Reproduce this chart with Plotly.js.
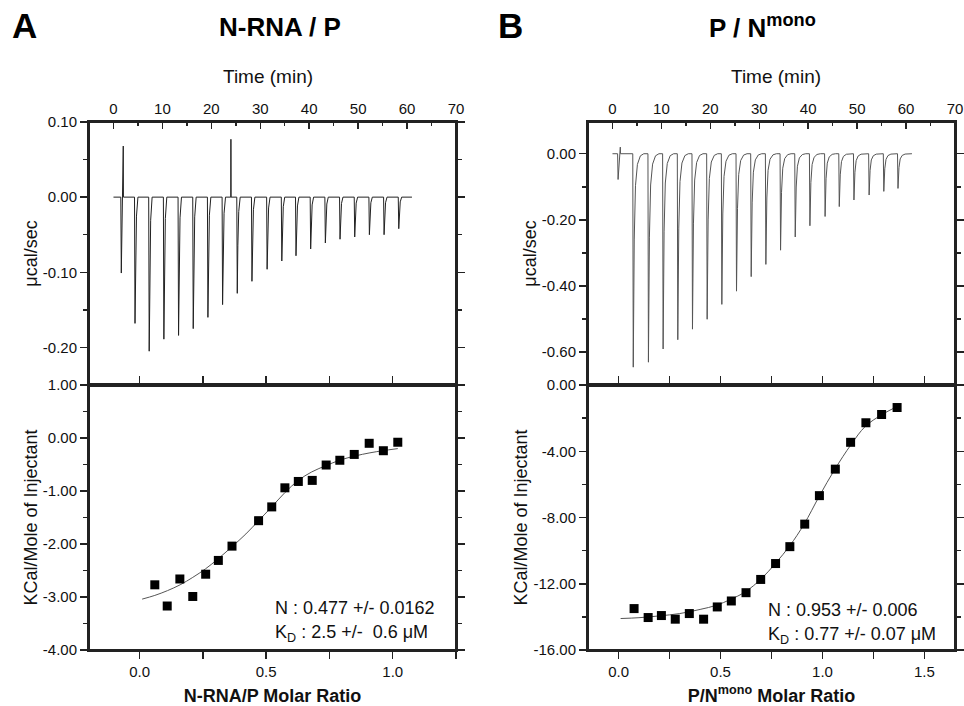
<!DOCTYPE html>
<html>
<head>
<meta charset="utf-8">
<script src="https://cdn.plot.ly/plotly-3.0.1.min.js"></script>
<style>html,body{margin:0;padding:0;background:#fff;}#chart{width:964px;height:706px;}</style>
</head>
<body>
<div id="chart"></div>
<script>
// ---------------- DATA ----------------
// Panel A (N-RNA / P) raw thermogram: injection times (min) and peak heights (µcal/sec)
const leftInjTime = [1.6, 4.4, 7.3, 10.3, 13.3, 16.3, 19.3, 22.3, 25.3, 28.3, 31.4, 34.4, 37.3, 40.3, 43.3, 46.3, 49.3, 52.3, 55.3, 58.3];
const leftInjPeak = [-0.101, -0.168, -0.205, -0.189, -0.184, -0.175, -0.160, -0.143, -0.128, -0.112, -0.096, -0.085, -0.078, -0.069, -0.061, -0.056, -0.053, -0.050, -0.050, -0.042];
const leftSpikeTime = [2.0, 24.0];
const leftSpikePeak = [0.068, 0.077];
const leftRun = [0, 61];

// Panel A integrated heats
const leftRatio = [0.060, 0.109, 0.159, 0.210, 0.261, 0.311, 0.365, 0.470, 0.522, 0.574, 0.627, 0.682, 0.737, 0.791, 0.848, 0.907, 0.963, 1.020];
const leftHeat  = [-2.77, -3.17, -2.66, -2.99, -2.57, -2.31, -2.04, -1.56, -1.30, -0.94, -0.82, -0.80, -0.51, -0.42, -0.31, -0.10, -0.24, -0.08];
const leftFitX  = [0.01, 0.06, 0.11, 0.16, 0.21, 0.26, 0.31, 0.365, 0.42, 0.47, 0.52, 0.574, 0.627, 0.68, 0.737, 0.79, 0.85, 0.91, 0.96, 1.02];
const leftFitY  = [-3.04, -2.97, -2.88, -2.77, -2.63, -2.47, -2.28, -2.05, -1.81, -1.56, -1.31, -1.03, -0.80, -0.64, -0.52, -0.42, -0.34, -0.28, -0.24, -0.20];

// Panel B (P / N mono) raw thermogram
const rightInjTime = [1.1, 4.2, 7.3, 10.3, 13.3, 16.3, 19.3, 22.3, 25.3, 28.3, 31.3, 34.3, 37.3, 40.3, 43.4, 46.3, 49.3, 52.4, 55.4, 58.3];
const rightInjPeak = [-0.078, -0.646, -0.631, -0.591, -0.563, -0.531, -0.501, -0.456, -0.416, -0.372, -0.335, -0.292, -0.252, -0.218, -0.190, -0.160, -0.140, -0.125, -0.114, -0.105];
const rightSpikeTime = [1.6];
const rightSpikePeak = [0.02];
const rightRun = [0, 61.2];

// Panel B integrated heats
const rightRatio = [0.076, 0.145, 0.210, 0.278, 0.347, 0.417, 0.484, 0.553, 0.625, 0.697, 0.770, 0.840, 0.913, 0.985, 1.063, 1.138, 1.213, 1.290, 1.366];
const rightHeat  = [-13.50, -14.04, -13.92, -14.14, -13.80, -14.14, -13.40, -13.04, -12.54, -11.74, -10.78, -9.76, -8.40, -6.68, -5.08, -3.46, -2.28, -1.78, -1.36];
const rightFitX  = [0.01, 0.1, 0.2, 0.3, 0.4, 0.48, 0.55, 0.62, 0.70, 0.77, 0.84, 0.91, 0.985, 1.06, 1.14, 1.21, 1.29, 1.366];
const rightFitY  = [-14.1, -14.05, -13.94, -13.8, -13.55, -13.30, -12.94, -12.50, -11.70, -10.76, -9.70, -8.40, -6.70, -5.10, -3.60, -2.50, -1.80, -1.30];

// Axis ranges
const timeRange = [-5, 70];
const leftTopRange = [-0.25, 0.1];
const leftBotRange = [-4, 1];
const leftRatioRange = [-0.2, 1.25];
const rightTopRange = [-0.7, 0.096];
const rightBotRange = [-16, 0];
const rightRatioRange = [-0.15, 1.65];

// Tick labels
const timeTickVals = [0, 10, 20, 30, 40, 50, 60, 70];
const timeTickText = ['0', '10', '20', '30', '40', '50', '60', '70'];
const leftTopTickVals = [0.1, 0, -0.1, -0.2];
const leftTopTickText = ['0.10', '0.00', '-0.10', '-0.20'];
const leftBotTickVals = [1, 0, -1, -2, -3, -4];
const leftBotTickText = ['1.00', '0.00', '-1.00', '-2.00', '-3.00', '-4.00'];
const leftRatioTickVals = [0, 0.5, 1.0];
const leftRatioTickText = ['0.0', '0.5', '1.0'];
const rightTopTickVals = [0, -0.2, -0.4, -0.6];
const rightTopTickText = ['0.00', '-0.20', '-0.40', '-0.60'];
const rightBotTickVals = [0, -4, -8, -12, -16];
const rightBotTickText = ['0.00', '-4.00', '-8.00', '-12.00', '-16.00'];
const rightRatioTickVals = [0, 0.5, 1.0, 1.5];
const rightRatioTickText = ['0.0', '0.5', '1.0', '1.5'];

// ---------------- STYLE ----------------
const W = 964, H = 706;
const xL = [89 / W, 456 / W];
const xR = [588 / W, 955 / W];
const yTop = [1 - 385 / H, 1 - 122 / H];
const yBot = [1 - 650 / H, 1 - 385 / H];
const TW = 1.5, TL = 7, MTL = 4;

// peak profiles used to draw each injection in the raw trace
const narrowDip = [[-0.1, 0], [0, 1], [0.12, 0.5], [0.3, 0.15], [0.6, 0]];
const recoveryDip = [[-0.05, 0], [0.05, 1], [0.25, 0.4], [0.5, 0.15], [0.9, 0.05], [1.5, 0.01], [2.2, 0]];
const thinSpike = [[-0.03, 0], [0, 1], [0.04, 0]];

function buildThermogram(run, dipT, dipP, dipShape, upT, upP) {
  const ev = [];
  dipT.forEach((t, i) => ev.push({t: t, p: dipP[i], shape: dipShape}));
  upT.forEach((t, i) => ev.push({t: t, p: upP[i], shape: thinSpike}));
  ev.sort((a, b) => a.t - b.t);
  const xs = [run[0]], ys = [0];
  ev.forEach((e, i) => {
    const nextT = i + 1 < ev.length ? ev[i + 1].t - 0.06 : run[1];
    e.shape.forEach(([dt, f]) => {
      const tt = e.t + dt;
      const isPeak = f === 1;
      if ((tt < nextT || isPeak) && tt > xs[xs.length - 1]) {
        xs.push(tt); ys.push(f * e.p);
      }
    });
  });
  xs.push(run[1]); ys.push(0);
  return {x: xs, y: ys};
}

const leftRaw = buildThermogram(leftRun, leftInjTime, leftInjPeak, narrowDip, leftSpikeTime, leftSpikePeak);
const rightRaw = buildThermogram(rightRun, rightInjTime, rightInjPeak, recoveryDip, rightSpikeTime, rightSpikePeak);

// ---------------- TRACES ----------------
const traces = [
  {type: 'scatter', mode: 'lines', x: leftRaw.x, y: leftRaw.y, xaxis: 'x', yaxis: 'y',
   line: {color: '#222', width: 1}, hoverinfo: 'skip'},
  {type: 'scatter', mode: 'lines', x: leftFitX, y: leftFitY, xaxis: 'x2', yaxis: 'y2',
   line: {color: '#555', width: 1, shape: 'spline'}, hoverinfo: 'skip'},
  {type: 'scatter', mode: 'markers', x: leftRatio, y: leftHeat, xaxis: 'x2', yaxis: 'y2',
   marker: {symbol: 'square', size: 9, color: '#000'}},
  {type: 'scatter', mode: 'lines', x: rightRaw.x, y: rightRaw.y, xaxis: 'x3', yaxis: 'y3',
   line: {color: '#555', width: 1}, hoverinfo: 'skip'},
  {type: 'scatter', mode: 'lines', x: rightFitX, y: rightFitY, xaxis: 'x4', yaxis: 'y4',
   line: {color: '#555', width: 1, shape: 'spline'}, hoverinfo: 'skip'},
  {type: 'scatter', mode: 'markers', x: rightRatio, y: rightHeat, xaxis: 'x4', yaxis: 'y4',
   marker: {symbol: 'square', size: 9, color: '#000'}}
];

// ---------------- LAYOUT ----------------
const base = {showline: true, mirror: 'ticks', linecolor: '#222', linewidth: 2, tickcolor: '#222', tickwidth: TW,
  zeroline: false, showgrid: false, fixedrange: true, automargin: false, tickfont: {size: 15, color: '#111'}};
function minor(dtick, dir, len) {
  return {ticks: dir, ticklen: len, tickmode: 'linear', tick0: 0, dtick: dtick, tickcolor: '#222', tickwidth: TW, showgrid: false};
}
function timeAxis(domain, anchor) {
  return Object.assign({}, base, {domain: domain, anchor: anchor, side: 'top', range: timeRange, mirror: true,
    tickmode: 'array', tickvals: timeTickVals, ticktext: timeTickText,
    ticks: 'inside', ticklen: TL, minor: minor(5, 'inside', MTL)});
}
function yAxis(domain, anchor, range, vals, text, mdt, title) {
  return Object.assign({}, base, {domain: domain, anchor: anchor, range: range,
    tickmode: 'array', tickvals: vals, ticktext: text, ticks: 'outside', ticklen: TL,
    minor: minor(mdt, 'outside', MTL),
    title: {text: title, font: {size: 18, color: '#111'}}});
}
function ratioAxis(domain, anchor, range, vals, text, title) {
  return Object.assign({}, base, {domain: domain, anchor: anchor, side: 'bottom', range: range,
    tickmode: 'array', tickvals: vals, ticktext: text, ticks: 'outside', ticklen: TL,
    minor: minor(0.25, 'outside', TL),
    title: {text: title, font: {size: 18, color: '#111'}}});
}

const frameShapes = [[xL, yTop], [xL, yBot], [xR, yTop], [xR, yBot]].map(([xd, yd]) => ({
  type: 'rect', xref: 'paper', yref: 'paper', x0: xd[0], x1: xd[1], y0: yd[0], y1: yd[1],
  line: {color: '#222', width: 2}, layer: 'above'}));

function label(text, px, py, anchor, size) {
  return {text: text, x: px / W, y: 1 - py / H, xref: 'paper', yref: 'paper', xanchor: anchor, yanchor: 'middle',
    showarrow: false, font: {size: size, color: '#000'}};
}

const layout = {
  width: W, height: H, margin: {l: 0, r: 0, t: 0, b: 0, pad: 0},
  paper_bgcolor: '#fff', plot_bgcolor: 'rgba(255,255,255,0)', showlegend: false,
  font: {family: 'Liberation Sans, Arial, Helvetica, sans-serif', color: '#111', size: 15},
  // Panel A
  xaxis: timeAxis(xL, 'y'),
  yaxis: yAxis(yTop, 'x', leftTopRange, leftTopTickVals, leftTopTickText, 0.05, 'μcal/sec'),
  xaxis2: ratioAxis(xL, 'y2', leftRatioRange, leftRatioTickVals, leftRatioTickText, '<b>N-RNA/P Molar Ratio</b>'),
  yaxis2: yAxis(yBot, 'x2', leftBotRange, leftBotTickVals, leftBotTickText, 0.5, 'KCal/Mole of Injectant'),
  // Panel B
  xaxis3: timeAxis(xR, 'y3'),
  yaxis3: yAxis(yTop, 'x3', rightTopRange, rightTopTickVals, rightTopTickText, 0.1, 'μcal/sec'),
  xaxis4: ratioAxis(xR, 'y4', rightRatioRange, rightRatioTickVals, rightRatioTickText, '<b>P/N<sup>mono</sup> Molar Ratio</b>'),
  yaxis4: yAxis(yBot, 'x4', rightBotRange, rightBotTickVals, rightBotTickText, 2, 'KCal/Mole of Injectant'),
  shapes: frameShapes,
  annotations: [
    label('<b>A</b>', 10, 26, 'left', 35),
    label('<b>N-RNA / P</b>', 280, 27, 'center', 26),
    label('<b>B</b>', 496, 26, 'left', 35),
    label('<b>P / N<sup>mono</sup></b>', 762, 27, 'center', 26),
    Object.assign(label('Time (min)', 268, 76, 'center', 19), {font: {size: 19, color: '#111'}}),
    Object.assign(label('Time (min)', 776, 76, 'center', 19), {font: {size: 19, color: '#111'}}),
    Object.assign(label('N : 0.477 +/- 0.0162', 273, 608, 'left', 18), {font: {size: 18, color: '#111'}}),
    Object.assign(label('K<sub>D</sub> : 2.5 +/-\u00a0 0.6 μM', 273, 633, 'left', 18), {font: {size: 18, color: '#111'}}),
    Object.assign(label('N : 0.953 +/- 0.006', 766, 610, 'left', 18), {font: {size: 18, color: '#111'}}),
    Object.assign(label('K<sub>D</sub> : 0.77 +/- 0.07 μM', 766, 635, 'left', 18), {font: {size: 18, color: '#111'}})
  ]
};

Plotly.newPlot('chart', traces, layout, {staticPlot: true, displayModeBar: false});
</script>
</body>
</html>
